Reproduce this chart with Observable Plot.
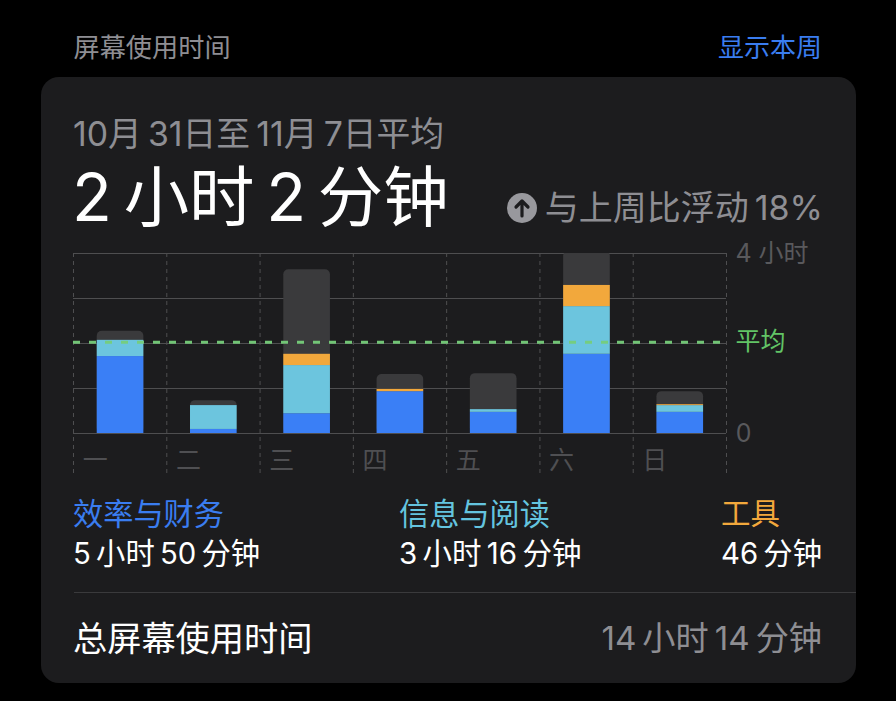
<!DOCTYPE html>
<html><head><meta charset="utf-8">
<script src="https://cdn.jsdelivr.net/npm/d3@7"></script>
<script src="https://cdn.jsdelivr.net/npm/@observablehq/plot@0.6"></script>
<style>
html,body{margin:0;padding:0;background:#000;width:896px;height:701px;overflow:hidden}
body{position:relative;font-family:Inter,"Noto Sans CJK SC",sans-serif;font-kerning:normal}
#card{position:absolute;left:41px;top:77px;width:815px;height:606px;background:#1c1c1e;border-radius:18px}
.t{position:absolute;white-space:nowrap;line-height:1;transform:translateY(-50%)}
.r{transform:translate(-100%,-50%)}
#rule{position:absolute;left:74px;top:592px;width:782px;height:1px;background:#3a3a3c}
#chart{position:absolute;left:0;top:220px}
#icon{position:absolute;left:507px;top:193px}
s{text-decoration:none;display:inline-block;width:.18em}
</style></head>
<body>
<div id="card"></div>
<div class="t" style="left:73.5px;top:48px;font-size:26.2px;color:#8e8e93">屏幕使用时间</div>
<div class="t r" style="left:822px;top:48px;font-size:26px;color:#3a7df0">显示本周</div>
<div class="t" style="left:73px;top:133.5px;font-size:33.8px;color:#8e8e93">10月<s></s>31日至<s></s>11月<s></s>7日平均</div>
<div class="t" style="left:72px;top:198px;font-size:65.4px;color:#fff">2<s></s>小时<s></s>2<s></s>分钟</div>
<svg id="icon" width="30" height="30" viewBox="0 0 30 30"><circle cx="15" cy="15" r="15" fill="#98989d"/><path d="M15 23V8M9 14l6-6 6 6" fill="none" stroke="#1c1c1e" stroke-width="3.2" stroke-linecap="round" stroke-linejoin="round"/></svg>
<div class="t r" style="left:823px;top:208px;font-size:34px;color:#8e8e93">与上周比浮动<s></s>18%</div>
<div id="chart"></div>
<div class="t" style="left:73px;top:514px;font-size:30.2px;color:#3a7df0">效率与财务</div>
<div class="t" style="left:73px;top:554px;font-size:29.3px;color:#fff">5<s></s>小时<s></s>50<s></s>分钟</div>
<div class="t" style="left:399px;top:514px;font-size:30.2px;color:#64c4df">信息与阅读</div>
<div class="t" style="left:399px;top:554px;font-size:29.5px;color:#fff">3<s></s>小时<s></s>16<s></s>分钟</div>
<div class="t" style="left:721px;top:514px;font-size:29.5px;color:#f2a83c">工具</div>
<div class="t" style="left:721px;top:554px;font-size:29.3px;color:#fff">46<s></s>分钟</div>
<div id="rule"></div>
<div class="t" style="left:73px;top:639px;font-size:34.2px;color:#fff">总屏幕使用时间</div>
<div class="t r" style="left:822px;top:639px;font-size:33.2px;color:#8e8e93">14<s></s>小时<s></s>14<s></s>分钟</div>
<script>
const days = ["一","二","三","四","五","六","日"];
const productivity = [1.71,0.09,0.44,0.93,0.47,1.76,0.47];
const reading = [0.36,0.53,1.07,0.00,0.06,1.06,0.15];
const utilities = [0.00,0.00,0.25,0.05,0.00,0.47,0.02];
const other = [0.20,0.11,1.88,0.33,0.80,0.76,0.29];
const average = 2.03;
const colors = {p:"#3a7ff6",r:"#6cc5de",u:"#f2a83c",o:"#3a3a3c"};

const rows = days.flatMap((d,i)=>[
  {day:d,k:"p",h:productivity[i]},
  {day:d,k:"r",h:reading[i]},
  {day:d,k:"u",h:utilities[i]}
]);
const totals = days.map((d,i)=>({day:d,total:productivity[i]+reading[i]+utilities[i]+other[i]}));
const step = 653/7;
const font = 'Inter,"Noto Sans CJK SC",sans-serif';

const chart = Plot.plot({
  width:896,height:260,
  marginLeft:73,marginRight:170,marginTop:33,marginBottom:47,
  style:{background:"transparent",fontFamily:font},
  x:{domain:days,paddingInner:0.5,paddingOuter:0.25,round:false,label:null},
  y:{domain:[0,4],label:null},
  color:{domain:Object.keys(colors),range:Object.values(colors)},
  marks:[
    Plot.ruleY([0,1,2,3,4],{stroke:"#4e4e50",strokeWidth:1}),
    Plot.ruleX(days,{x:d=>d,y1:4,y2:-0.89,dx:-step/2,stroke:"#4e4e50",strokeDasharray:"4 4"}),
    Plot.ruleX(days.slice(-1),{x:d=>d,y1:4,y2:-0.89,dx:step/2,stroke:"#4e4e50",strokeDasharray:"4 4"}),
    Plot.barY(totals,{x:"day",y:"total",dx:0.4,fill:colors.o,rx:5,clip:true}),
    Plot.barY(rows,Plot.stackY({x:"day",y:"h",dx:0.4,fill:"k",order:Object.keys(colors)})),
    Plot.ruleY([average],{stroke:"#76ce7a",strokeOpacity:0.95,strokeWidth:3,strokeDasharray:"7 9"}),
    Plot.axisX({tickSize:0,tickPadding:18,textAnchor:"start",dx:-37.5,fontSize:25,fill:"#4f4f52",label:null}),
    Plot.axisY({anchor:"right",ticks:[0,4],tickSize:0,tickPadding:9,fontSize:25,fill:"#59595c",label:null,tickFormat:d=>d===4?"4 小时":"0"}),
    Plot.axisY({anchor:"right",ticks:[average],tickSize:0,tickPadding:9,fontSize:25,fill:"#62c466",label:null,tickFormat:()=>"平均"})
  ]
});
document.getElementById("chart").appendChild(chart);
</script>
</body></html>
